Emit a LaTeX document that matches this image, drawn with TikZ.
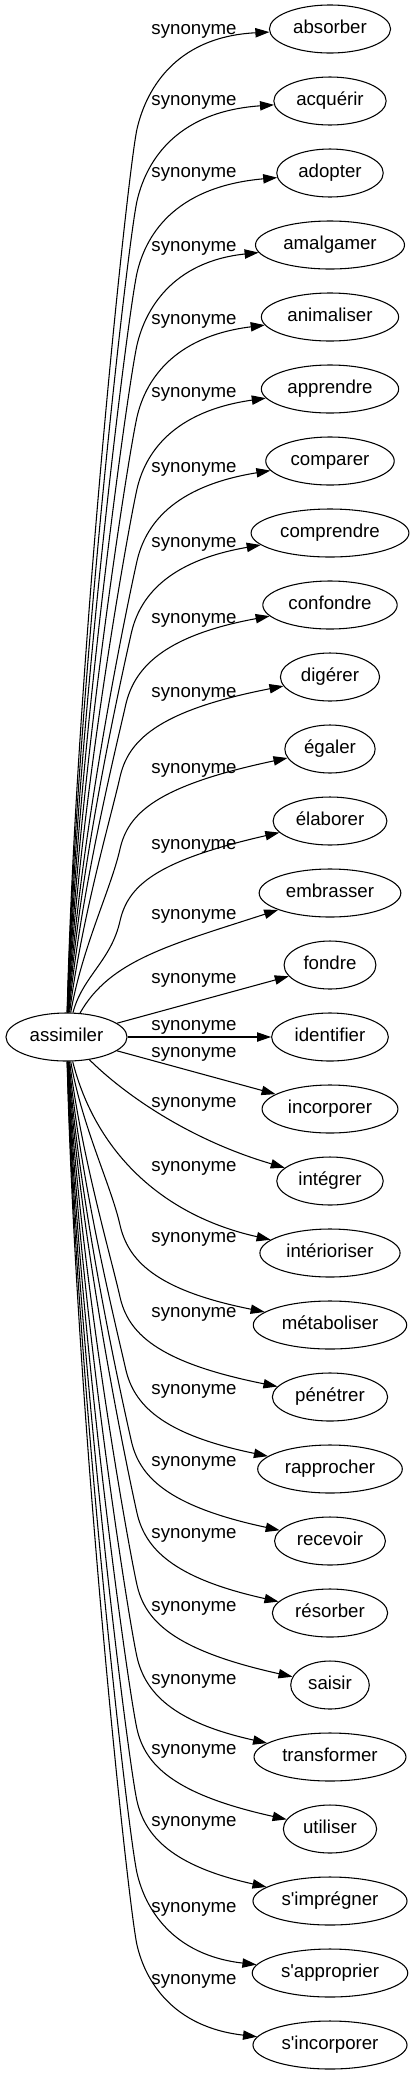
\documentclass[tikz,border=0pt]{standalone}
\usepackage{fontspec}
\newfontfamily\gv{Liberation Sans}[Ligatures=CommonOff]
\usetikzlibrary{shapes.geometric,arrows.meta}
\tikzset{
  txt/.style={font=\gv\fontsize{14pt}{16pt}\selectfont, text height=10.2pt, text depth=2.9pt},
  syn/.style={txt, ellipse, draw, line width=0.8pt, minimum height=36pt, inner xsep=4.5pt, inner ysep=1pt},
  lab/.style={txt, inner sep=0pt, anchor=center},
  edge/.style={draw, line width=0.8pt, -{Triangle[length=10.5pt,width=7pt]}},
}
\begin{document}
\begin{tikzpicture}[x=0.75pt,y=-0.75pt]
\useasboundingbox (0,0) rectangle (413,2075);
\node[syn] (src) at (66.5,1037) {assimiler};
\foreach \i/\w/\ly in {0/absorber/30, 1/acquérir/101, 2/adopter/173, 3/amalgamer/247,
  4/animaliser/320, 5/apprendre/393, 6/comparer/468, 7/comprendre/543, 8/confondre/619,
  9/digérer/693, 10/égaler/769, 11/élaborer/845, 12/embrasser/915, 13/fondre/979,
  14/identifier/1026, 15/incorporer/1053, 16/intégrer/1103, 17/intérioriser/1167,
  18/métaboliser/1238, 19/pénétrer/1313, 20/rapprocher/1390, 21/recevoir/1462,
  22/résorber/1534, 23/saisir/1607, 24/transformer/1680, 25/utiliser/1750,
  26/s'imprégner/1822, 27/s'approprier/1908, 28/s'incorporer/1980}{
  \pgfmathsetmacro\yt{29+72*\i}
  \node[syn] (n\i) at (330,\yt) {\w};
  \node[lab] (l\i) at (194,\ly) {synonyme};
}
% curved edges with a long, nearly vertical run and a bend near the target
\foreach \i in {0,1,2,3,4,5,6,7,8,9,10,11,18,19,20,21,22,23,24,25,26,27,28}{
  \pgfmathsetmacro\yt{29+72*\i}
  \pgfmathsetmacro\s{\i<14 ? -1 : 1}
  \pgfmathsetmacro\k{abs(\i-14)}
  \pgfmathsetmacro\px{120+17*min(1,max(0,(\k-5)/3))}
  \pgfmathsetmacro\py{\yt-\s*100}
  \pgfmathsetmacro\sy{1037+\s*24}
  \pgfmathsetmacro\cax{76+0.6*(14-\k)}
  \pgfmathsetmacro\cay{\sy+0.4*(\py-\sy)}
  \pgfmathsetmacro\cbx{\px-9}
  \pgfmathsetmacro\cby{\py-\s*40}
  \pgfmathsetmacro\qax{\px+8}
  \pgfmathsetmacro\qay{\py+\s*35}
  \pgfmathsetmacro\qbx{\px+35}
  \pgfmathsetmacro\e{\s<0 ? 8+2.9*(14-\k) : (\k>12 ? 18 : 35)}
  \pgfmathsetmacro\qby{\yt-\s*\e}
  \draw[edge] (src) .. controls (\cax,\cay) and (\cbx,\cby) .. (\px,\py)
     .. controls (\qax,\qay) and (\qbx,\qby) .. (n\i);
}
\draw[edge] (src) .. controls (110,960) and (170,945) .. (n12);
\draw[edge] (src) -- (n13);
\draw[edge] (src) -- (n14);
\draw[edge] (src) -- (n15);
\draw[edge] (src) .. controls (125,1095) and (190,1140) .. (n16);
\draw[edge] (src) .. controls (95,1150) and (160,1215) .. (n17);
\end{tikzpicture}
\end{document}
